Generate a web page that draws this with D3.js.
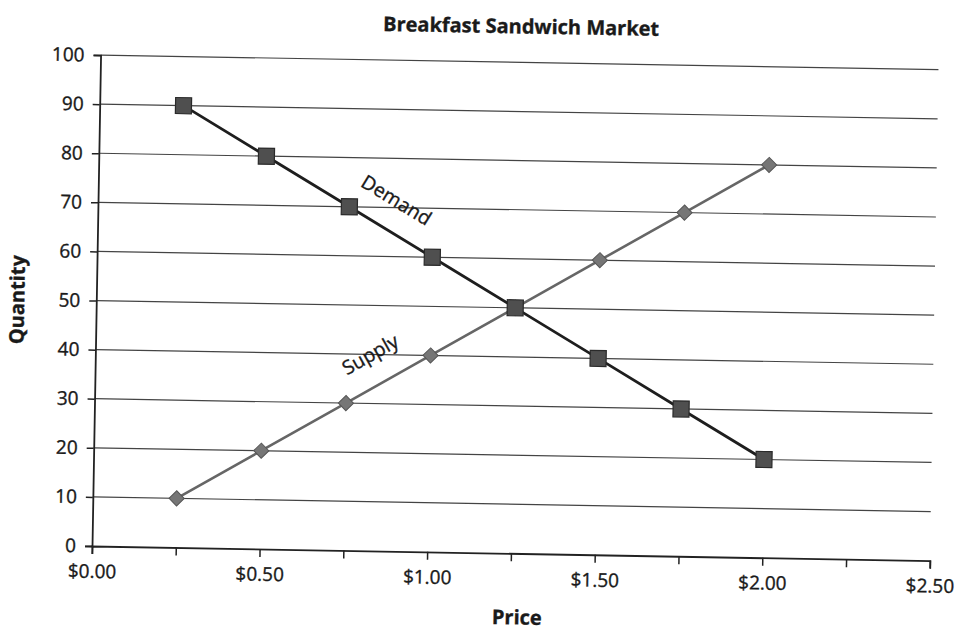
<!DOCTYPE html>
<html>
<head>
<meta charset="utf-8">
<script src="https://d3js.org/d3.v7.min.js"></script>
<style>
  body { margin: 0; background: #fff; }
  text { font-family: "Open Sans", "Noto Sans", sans-serif; fill: #1a1a1a; stroke: #1a1a1a; stroke-width: 0.35px; }
</style>
</head>
<body>
<svg id="mainsvg"></svg>
<script>
// data
const prices = [0.25, 0.5, 0.75, 1.0, 1.25, 1.5, 1.75, 2.0];
const demand = [90, 80, 70, 60, 50, 40, 30, 20];
const supply = [10, 20, 30, 40, 50, 60, 70, 80];
const xTicks = [0, 0.25, 0.5, 0.75, 1, 1.25, 1.5, 1.75, 2, 2.25, 2.5];
const xLabels = [0, 0.5, 1, 1.5, 2, 2.5];
const yTicks = [0, 10, 20, 30, 40, 50, 60, 70, 80, 90, 100];

const width = 959, height = 631;
const margin = { top: 55, right: 29, bottom: 85, left: 92 };
const tilt = 1.0; // scanned page is slightly rotated
const tickFont = "19px";

const svg = d3.select("#mainsvg")
  .attr("width", width)
  .attr("height", height)
  .attr("viewBox", [0, 0, width, height]);

const x = d3.scaleLinear([0, 2.5], [margin.left, width - margin.right]);
const y = d3.scaleLinear([0, 100], [height - margin.bottom, margin.top]);

const g = svg.append("g")
  .attr("transform", `rotate(${tilt},${x(0)},${y(0)})`);

// grid lines
g.append("g")
  .selectAll("line")
  .data(yTicks.slice(1))
  .join("line")
  .attr("x1", x(0)).attr("x2", x(2.5))
  .attr("y1", d => y(d)).attr("y2", d => y(d))
  .attr("stroke", "#444").attr("stroke-width", 1.2);

// y axis
const yAxis = g.append("g")
  .attr("transform", `translate(${x(0)},0)`)
  .call(d3.axisLeft(y).tickValues(yTicks).tickSize(7).tickPadding(9));
yAxis.select(".domain").attr("stroke", "#222").attr("stroke-width", 1.8);
yAxis.selectAll(".tick line").attr("stroke", "#222").attr("stroke-width", 1.5);
yAxis.selectAll(".tick text").style("font-size", tickFont).attr("fill", "#1a1a1a");

// x axis
const xAxis = g.append("g")
  .attr("transform", `translate(0,${y(0)})`)
  .call(d3.axisBottom(x).tickValues(xTicks).tickSize(8).tickSizeOuter(8)
    .tickFormat(d => xLabels.includes(d) ? d3.format("$.2f")(d) : ""));
xAxis.select(".domain").attr("stroke", "#222").attr("stroke-width", 1.8);
xAxis.selectAll(".tick line").attr("stroke", "#222").attr("stroke-width", 1.5);
xAxis.selectAll(".tick text").style("font-size", tickFont).attr("fill", "#1a1a1a")
  .attr("dy", "1.1em");

// lines
const line = d3.line().x(d => x(d[0])).y(d => y(d[1]));
const supplyPts = prices.map((p, i) => [p, supply[i]]);
const demandPts = prices.map((p, i) => [p, demand[i]]);

g.append("path").datum(supplyPts)
  .attr("d", line).attr("fill", "none")
  .attr("stroke", "#666").attr("stroke-width", 2.6);

g.append("g").selectAll("path")
  .data(supplyPts)
  .join("path")
  .attr("d", d3.symbol(d3.symbolSquare, 115))
  .attr("transform", d => `translate(${x(d[0])},${y(d[1])}) rotate(45)`)
  .attr("fill", "#767676").attr("stroke", "#555").attr("stroke-width", 1);

g.append("path").datum(demandPts)
  .attr("d", line).attr("fill", "none")
  .attr("stroke", "#1e1e1e").attr("stroke-width", 2.8);

g.append("g").selectAll("rect")
  .data(demandPts)
  .join("rect")
  .attr("x", d => x(d[0]) - 8).attr("y", d => y(d[1]) - 8)
  .attr("width", 16).attr("height", 16)
  .attr("fill", "#4f4f4f").attr("stroke", "#2a2a2a").attr("stroke-width", 1.2);

// line labels
const angle = Math.atan2(y(20) - y(90), x(2) - x(0.25)) * 180 / Math.PI;
g.append("text")
  .attr("transform", `translate(${x(0.89)},${y(71.5)}) rotate(${angle})`)
  .attr("text-anchor", "middle").attr("dy", "0.35em")
  .style("font-size", "19.5px")
  .text("Demand");
g.append("text")
  .attr("transform", `translate(${x(0.82)},${y(40)}) rotate(${-angle})`)
  .attr("text-anchor", "middle").attr("dy", "0.35em")
  .style("font-size", "19.5px")
  .text("Supply");

// titles
g.append("text")
  .attr("x", 512).attr("y", 26)
  .attr("text-anchor", "middle")
  .style("font-size", "20px").style("font-weight", "bold")
  .text("Breakfast Sandwich Market");

g.append("text")
  .attr("x", 518).attr("y", 617)
  .attr("text-anchor", "middle")
  .style("font-size", "20px").style("font-weight", "bold")
  .text("Price");

g.append("text")
  .attr("transform", `translate(20,301) rotate(-90)`)
  .attr("text-anchor", "middle")
  .style("font-size", "20px").style("font-weight", "bold")
  .text("Quantity");
</script>
</body>
</html>
